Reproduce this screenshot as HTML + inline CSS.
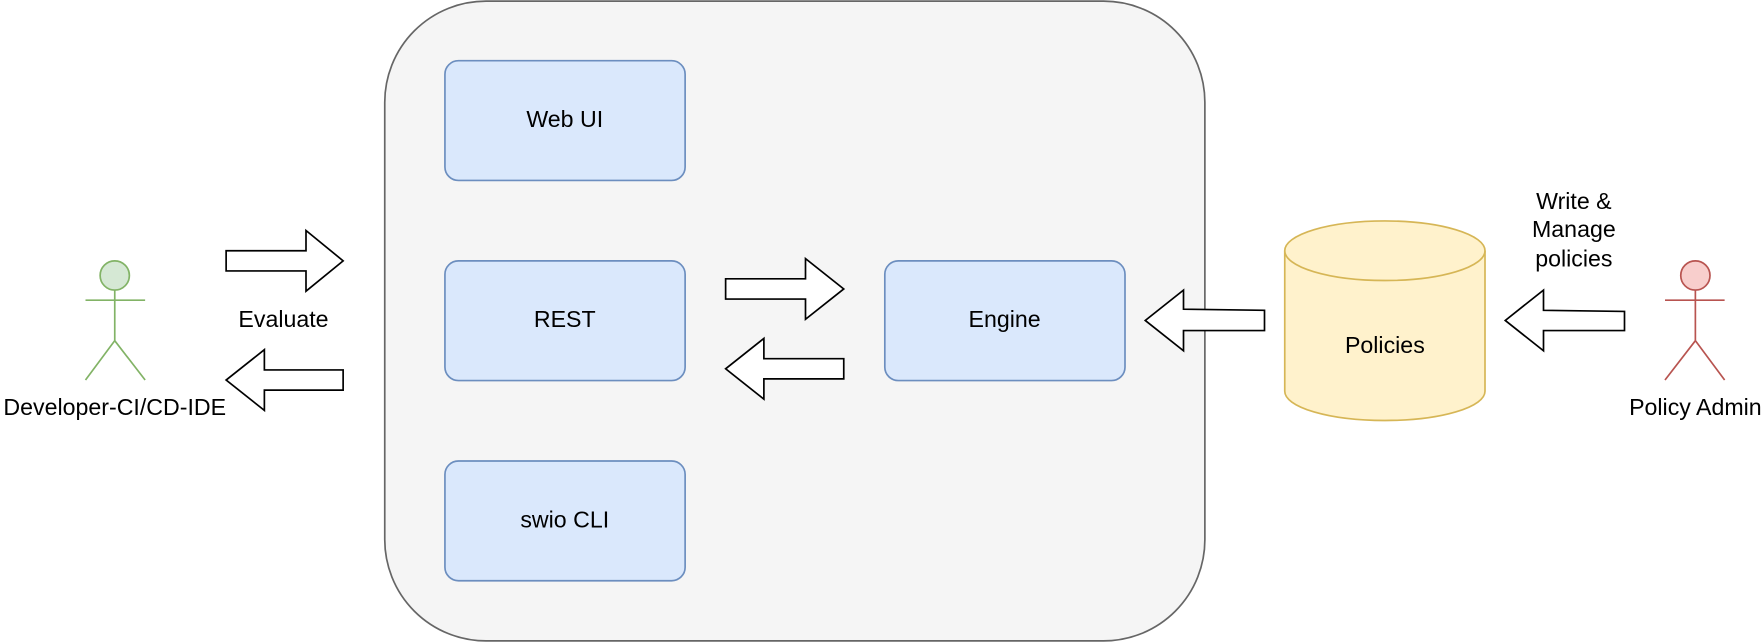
<!DOCTYPE html>
<html><head><meta charset="utf-8"><style>html,body{margin:0;padding:0;background:#fff}svg{display:block}</style></head>
<body>
<svg width="1764" height="642" viewBox="0 0 1568 571" preserveAspectRatio="none" xmlns="http://www.w3.org/2000/svg" font-family="Liberation Sans, sans-serif" font-size="20.6" text-anchor="middle">
<rect x="342" y="1" width="729" height="569" rx="90" fill="#f5f5f5" stroke="#666" stroke-width="1.5"/>
<g fill="#dae8fc" stroke="#6c8ebf" stroke-width="1.5">
<rect x="395.5" y="54" width="213.5" height="106.5" rx="12"/>
<rect x="395.5" y="232" width="213.5" height="106.5" rx="12"/>
<rect x="395.5" y="410" width="213.5" height="106.5" rx="12"/>
<rect x="786.5" y="232" width="213.5" height="106.5" rx="12"/>
</g>
<g fill="#000">
<text x="502" y="113">Web UI</text>
<text x="502" y="291">REST</text>
<text x="502" y="469">swio CLI</text>
<text x="893" y="291">Engine</text>
</g>
<path d="M1142,223 L1142,348 A89,26 0 0 0 1320,348 L1320,223" fill="#fff2cc" stroke="#d6b656" stroke-width="1.5"/>
<ellipse cx="1231" cy="223" rx="89" ry="26.5" fill="#fff2cc" stroke="#d6b656" stroke-width="1.5"/>
<text x="1231" y="314">Policies</text>
<g stroke="#82b366" stroke-width="1.5" fill="none">
<circle cx="102" cy="245" r="13" fill="#d5e8d4"/>
<path d="M102,258 L102,303 M76,267 L129,267 M76,338 L102,303 L129,338"/>
</g>
<g stroke="#b85450" stroke-width="1.5" fill="none">
<circle cx="1507" cy="245" r="13" fill="#f8cecc"/>
<path d="M1507,258 L1507,303 M1480,267 L1533,267 M1480,338 L1507,303 L1533,338"/>
</g>
<text x="102" y="369">Developer-CI/CD-IDE</text>
<text x="1507" y="369">Policy Admin</text>
<text x="252" y="291">Evaluate</text>
<text x="1399" y="186">Write &amp;</text>
<text x="1399" y="211">Manage</text>
<text x="1399" y="237">policies</text>
<g fill="#fff" stroke="#000" stroke-width="1.5">
<path d="M201,223 L272,223 L272,205 L305,232 L272,259 L272,241 L201,241 Z"/>
<path d="M305,329 L235,329 L235,311 L201,338 L235,365 L235,347 L305,347 Z"/>
<path d="M645,248 L716,248 L716,230 L750,257 L716,284 L716,266 L645,266 Z"/>
<path d="M750,319 L679,319 L679,301 L645,328 L679,355 L679,337 L750,337 Z"/>
<path d="M1124,276 L1052,275 L1052,258 L1018,285 L1052,312 L1052,294 L1124,294 Z"/>
<path d="M1444,277 L1372,276 L1372,258 L1338,285 L1372,312 L1372,294 L1444,294 Z"/>
</g>
</svg>
</body></html>
